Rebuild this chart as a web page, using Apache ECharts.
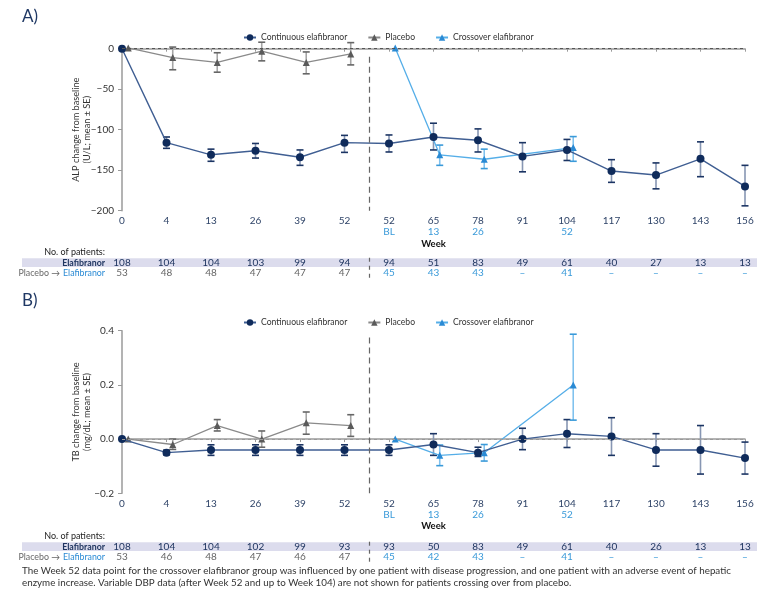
<!DOCTYPE html>
<html><head><meta charset="utf-8">
<script src="https://cdn.jsdelivr.net/npm/echarts@6/dist/echarts.min.js"></script>
<style>html,body{margin:0;padding:0;background:#fff}#c{width:779px;height:607px}</style>
</head><body><div id="c"></div>
<script>
// ---- categories / tick labels ----
const weekLabels = ['0','4','13','26','39','52','52','65','78','91','104','117','130','143','156'];
const crossWeekLabels = ['','','','','','','BL','13','26','','52','','','',''];
const rowLabels = ['Elafibranor', 'Placebo → Elafibranor'];

// ---- Panel A: ALP (U/L) ----
const alpContMean = [0, -116, -131, -126, -134, -116, -117, -109, -113, -133, -125, -151, -156, -136, -170];
const alpContLo   = [null, -123, -139, -135, -144, -128, -127.5, -125, -127.5, -152, -138, -165, -173, -158, -194];
const alpContHi   = [null, -109, -124, -117, -125, -107, -106.5, -92, -99, -116, -112, -137, -141, -115, -144];
const alpPlacMean = [1, -11, -17, -3, -17, -6.5];
const alpPlacLo   = [null, -26, -29, -15, -31, -20];
const alpPlacHi   = [null, 2, -5, 8, -4, 7.5];
const alpCrossMean = [null, null, null, null, null, null, 1, -131, -136.5, null, -122, null, null, null, null];
const alpCrossLo   = [null, null, null, null, null, null, null, -144, -148, null, -139, null, null, null, null];
const alpCrossHi   = [null, null, null, null, null, null, null, -119, -124, null, -108.5, null, null, null, null];
const nElaA  = ['108','104','104','103','99','94','94','51','83','49','61','40','27','13','13'];
const nPlacA = ['53','48','48','47','47','47','45','43','43','–','41','–','–','–','–'];

// ---- Panel B: TB (mg/dL) ----
const tbContMean = [0, -0.05, -0.04, -0.04, -0.04, -0.04, -0.04, -0.02, -0.05, 0.0, 0.02, 0.01, -0.04, -0.04, -0.07];
const tbContLo   = [null, -0.058, -0.06, -0.06, -0.06, -0.06, -0.06, -0.06, -0.064, -0.039, -0.031, -0.06, -0.10, -0.129, -0.129];
const tbContHi   = [null, -0.041, -0.021, -0.021, -0.021, -0.021, -0.021, 0.02, -0.03, 0.04, 0.072, 0.079, 0.02, 0.05, -0.011];
const tbPlacMean = [0, -0.02, 0.05, 0.0, 0.06, 0.05];
const tbPlacLo   = [null, -0.038, 0.03, -0.03, 0.018, 0.01];
const tbPlacHi   = [null, 0.0, 0.072, 0.03, 0.10, 0.09];
const tbCrossMean = [null, null, null, null, null, null, 0, -0.06, -0.05, null, 0.2, null, null, null, null];
const tbCrossLo   = [null, null, null, null, null, null, null, -0.098, -0.081, null, 0.07, null, null, null, null];
const tbCrossHi   = [null, null, null, null, null, null, null, -0.022, -0.02, null, 0.387, null, null, null, null];
const nElaB  = ['108','104','104','102','99','93','93','50','83','49','61','40','26','13','13'];
const nPlacB = ['53','46','48','47','46','47','45','42','43','–','41','–','–','–','–'];

const footnote = 'The Week 52 data point for the crossover elafibranor group was influenced by one patient with disease progression, and one patient with an adverse event of hepatic\nenzyme increase. Variable DBP data (after Week 52 and up to Week 104) are not shown for patients crossing over from placebo.';

// ---- styling ----
const FONT = 'Lato';
const NAVY = '#0f2b5b', NAVY_LINE = '#3f5e92';
const GRAY = '#5a5a5a', GRAY_LINE = '#8a8a8a';
const BLUE = '#2a8ad4', BLUE_LINE = '#55aee8';
const DODGE = 0.14;
const SEP = 5.55;
const AXIS_GRAY = '#9a9a9a';
const NUM_SIZE = 10;

function lineData(mean, dx) {
  return mean.map((v, i) => v == null ? null : [i + dx, v]).filter(Boolean);
}
function errData(lo, hi, dx) {
  return lo.map((l, i) => l == null ? null : [i + dx, l, hi[i]]).filter(Boolean);
}
function errRender(stem, cap) {
  return function (params, api) {
    const x = api.value(0);
    const a = api.coord([x, api.value(1)]);
    const b = api.coord([x, api.value(2)]);
    const w = 3.5;
    return { type: 'group', children: [
      { type: 'line', shape: { x1: a[0], y1: a[1], x2: b[0], y2: b[1] }, style: { stroke: stem, lineWidth: 1.6 } },
      { type: 'line', shape: { x1: a[0] - w, y1: a[1], x2: a[0] + w, y2: a[1] }, style: { stroke: cap, lineWidth: 1.6 } },
      { type: 'line', shape: { x1: b[0] - w, y1: b[1], x2: b[0] + w, y2: b[1] }, style: { stroke: cap, lineWidth: 1.6 } }
    ]};
  };
}
function tableRender(texts, colorFn) {
  return function (params, api) {
    const i = params.dataIndex;
    const p = api.coord([api.value(0), api.value(1)]);
    return { type: 'text', x: p[0], y: p[1], style: {
      text: texts[i], fill: colorFn(i), align: 'center', verticalAlign: 'middle',
      font: NUM_SIZE + 'px ' + FONT } };
  };
}

const GRID_L = 122, GRID_R = 34;
const grids = [
  { left: GRID_L, right: GRID_R, top: 48.7, height: 162 },
  { left: GRID_L, right: GRID_R, top: 257.7, height: 20 },
  { left: GRID_L, right: GRID_R, top: 330.7, height: 162.6 },
  { left: GRID_L, right: GRID_R, top: 541.7, height: 20 }
];

function mainX(gi) {
  return {
    gridIndex: gi, type: 'value', min: 0, max: 14, interval: 1,
    axisLine: { lineStyle: { color: AXIS_GRAY, width: 1.5 } },
    axisTick: { show: true, length: 3, lineStyle: { color: AXIS_GRAY } },
    splitLine: { show: false },
    axisLabel: {
      margin: 5,
      formatter: v => { const i = Math.round(v); return '{a|' + weekLabels[i] + '}\n{b|' + (crossWeekLabels[i] || ' ') + '}'; },
      rich: {
        a: { color: '#2f4468', fontSize: NUM_SIZE, fontFamily: FONT, lineHeight: 11 },
        b: { color: '#3a9ad9', fontSize: NUM_SIZE, fontFamily: FONT, lineHeight: 11 }
      }
    },
    name: 'Week', nameLocation: 'middle', nameGap: 28, nameMoveOverlap: false,
    nameTextStyle: { color: '#111', fontWeight: 'bold', fontSize: 9.5, fontFamily: FONT }
  };
}
function tableX(gi) {
  return { gridIndex: gi, type: 'value', min: 0, max: 14, interval: 1, show: false };
}
function tableY(gi) {
  return {
    gridIndex: gi, type: 'category', data: rowLabels, inverse: true,
    axisLine: { show: false }, axisTick: { show: false }, splitLine: { show: false },
    axisLabel: {
      margin: 17, interval: 0, hideOverlap: false,
      formatter: (v, i) => i === 0 ? '{e|Elafibranor}' : '{p|Placebo →} {q|Elafibranor}',
      rich: {
        e: { color: '#1f3560', fontWeight: 'bold', fontSize: 8.8, fontFamily: FONT },
        p: { color: '#666', fontSize: 8.8, fontFamily: FONT },
        q: { color: '#2a8ad4', fontSize: 8.8, fontFamily: FONT }
      }
    }
  };
}

const yNameStyle = { color: '#333', fontSize: 9.2, fontFamily: FONT, lineHeight: 11 };
const legendBase = { left: 238, itemWidth: 12, itemHeight: 8, itemGap: 20,
  data: ['Continuous elafibranor', 'Placebo', 'Crossover elafibranor'],
  textStyle: { color: '#333', fontSize: 8.6, fontFamily: FONT } };

function mainY(gi, min, max, interval, fmt, name) {
  return { gridIndex: gi, type: 'value', min: min, max: max, interval: interval,
    axisLine: { show: true, lineStyle: { color: AXIS_GRAY, width: 1.5 } },
    axisTick: { show: true, length: 4, lineStyle: { color: AXIS_GRAY } },
    splitLine: { show: false },
    axisLabel: { color: '#333', fontSize: NUM_SIZE, fontFamily: FONT, formatter: fmt },
    name: name, nameLocation: 'middle', nameGap: 29, nameMoveOverlap: false,
    nameTextStyle: yNameStyle };
}

const option = {
  animation: false,
  backgroundColor: '#fff',
  textStyle: { fontFamily: FONT },
  grid: grids,
  legend: [
    Object.assign({ top: 28 }, legendBase),
    Object.assign({ top: 313 }, legendBase)
  ],
  xAxis: [mainX(0), tableX(1), mainX(2), tableX(3)],
  yAxis: [
    mainY(0, -200, 0, 50, v => String(v).replace('-', '−'), 'ALP change from baseline\n(U/L; mean ± SE)'),
    tableY(1),
    mainY(2, -0.2, 0.4, 0.2, v => Math.abs(v) < 1e-9 ? '0.0' : v.toFixed(1).replace('-', '−'), 'TB change from baseline\n(mg/dL; mean ± SE)'),
    tableY(3)
  ],
  graphic: [
    { type: 'text', left: 22, top: 8, style: { text: 'A)', fill: '#1f3864', font: '17px ' + FONT } },
    { type: 'text', left: 22, top: 292, style: { text: 'B)', fill: '#1f3864', font: '17px ' + FONT } },
    { type: 'rect', z: -10, shape: { x: 22, y: 258.2, width: 735, height: 8.8 }, style: { fill: '#dcdced' } },
    { type: 'rect', z: -10, shape: { x: 22, y: 542.2, width: 735, height: 8.8 }, style: { fill: '#dcdced' } },
    { type: 'text', x: 105, y: 252.3, style: { text: 'No. of patients:', fill: '#222', font: '9px ' + FONT, align: 'right', verticalAlign: 'middle' } },
    { type: 'text', x: 105, y: 536, style: { text: 'No. of patients:', fill: '#222', font: '9px ' + FONT, align: 'right', verticalAlign: 'middle' } },
    { type: 'text', x: 22, y: 565, style: { text: footnote, fill: '#333', font: '9.8px ' + FONT, lineHeight: 12 } }
  ],
  series: []
};

function panelSeries(xi, yi, cM, cL, cH, pM, pL, pH, xM, xL, xH, zeroColor, zeroType, sepTop, sepBot) {
  return [
    { type: 'custom', name: 'errC', xAxisIndex: xi, yAxisIndex: yi, z: 1, clip: false,
      renderItem: errRender('#8796b3', '#1b3463'), data: errData(cL, cH, 0), encode: { x: 0, y: [1, 2] } },
    { type: 'custom', name: 'errP', xAxisIndex: xi, yAxisIndex: yi, z: 1, clip: false,
      renderItem: errRender('#a5a5a5', '#666'), data: errData(pL, pH, DODGE), encode: { x: 0, y: [1, 2] } },
    { type: 'custom', name: 'errX', xAxisIndex: xi, yAxisIndex: yi, z: 1, clip: false,
      renderItem: errRender('#80c2ee', '#3a9ad9'), data: errData(xL, xH, DODGE), encode: { x: 0, y: [1, 2] } },
    { type: 'line', name: 'Placebo', xAxisIndex: xi, yAxisIndex: yi, z: 3, clip: false,
      data: lineData(pM, DODGE), symbol: 'triangle', symbolSize: 7, showAllSymbol: true,
      itemStyle: { color: GRAY }, lineStyle: { color: GRAY_LINE, width: 1.3 } },
    { type: 'line', name: 'Crossover elafibranor', xAxisIndex: xi, yAxisIndex: yi, z: 3, clip: false,
      data: lineData(xM, DODGE), symbol: 'triangle', symbolSize: 7, showAllSymbol: true,
      itemStyle: { color: BLUE }, lineStyle: { color: BLUE_LINE, width: 1.3 } },
    { type: 'line', name: 'Continuous elafibranor', xAxisIndex: xi, yAxisIndex: yi, z: 4, clip: false,
      data: lineData(cM, 0), symbol: 'circle', symbolSize: 8, showAllSymbol: true,
      itemStyle: { color: NAVY }, lineStyle: { color: NAVY_LINE, width: 1.4 },
      markLine: { silent: true, symbol: 'none', label: { show: false }, animation: false,
        data: [
          { yAxis: 0, lineStyle: { color: zeroColor, type: zeroType, width: 1 } },
          [ { coord: [SEP, sepTop], lineStyle: { color: '#666', type: [6, 4], width: 1.2 } }, { coord: [SEP, sepBot] } ]
        ] } }
  ];
}
function tableSeries(xi, yi, ela, plac) {
  return [
    { type: 'custom', name: 'tabE', xAxisIndex: xi, yAxisIndex: yi, clip: false,
      renderItem: tableRender(ela, () => '#1f3560'), data: ela.map((t, i) => [i, 0]) },
    { type: 'custom', name: 'tabP', xAxisIndex: xi, yAxisIndex: yi, clip: false,
      renderItem: tableRender(plac, i => i < 6 ? '#666' : '#3a9ad9'), data: plac.map((t, i) => [i, 1]) },
    { type: 'line', name: 'sep', xAxisIndex: xi, yAxisIndex: yi, data: [], silent: true,
      markLine: { silent: true, symbol: 'none', label: { show: false }, animation: false,
        lineStyle: { color: '#666', type: [4, 4], width: 1.2 }, data: [{ xAxis: SEP }] } }
  ];
}

option.series = [].concat(
  panelSeries(0, 0, alpContMean, alpContLo, alpContHi, alpPlacMean, alpPlacLo, alpPlacHi, alpCrossMean, alpCrossLo, alpCrossHi, '#555', [3, 3], -10, -200),
  tableSeries(1, 1, nElaA, nPlacA),
  panelSeries(2, 2, tbContMean, tbContLo, tbContHi, tbPlacMean, tbPlacLo, tbPlacHi, tbCrossMean, tbCrossLo, tbCrossHi, '#999', [3, 3], 0.375, -0.2),
  tableSeries(3, 3, nElaB, nPlacB)
);

const chart = echarts.init(document.getElementById('c'), null, { renderer: 'canvas' });
chart.setOption(option);
</script>
</body></html>
